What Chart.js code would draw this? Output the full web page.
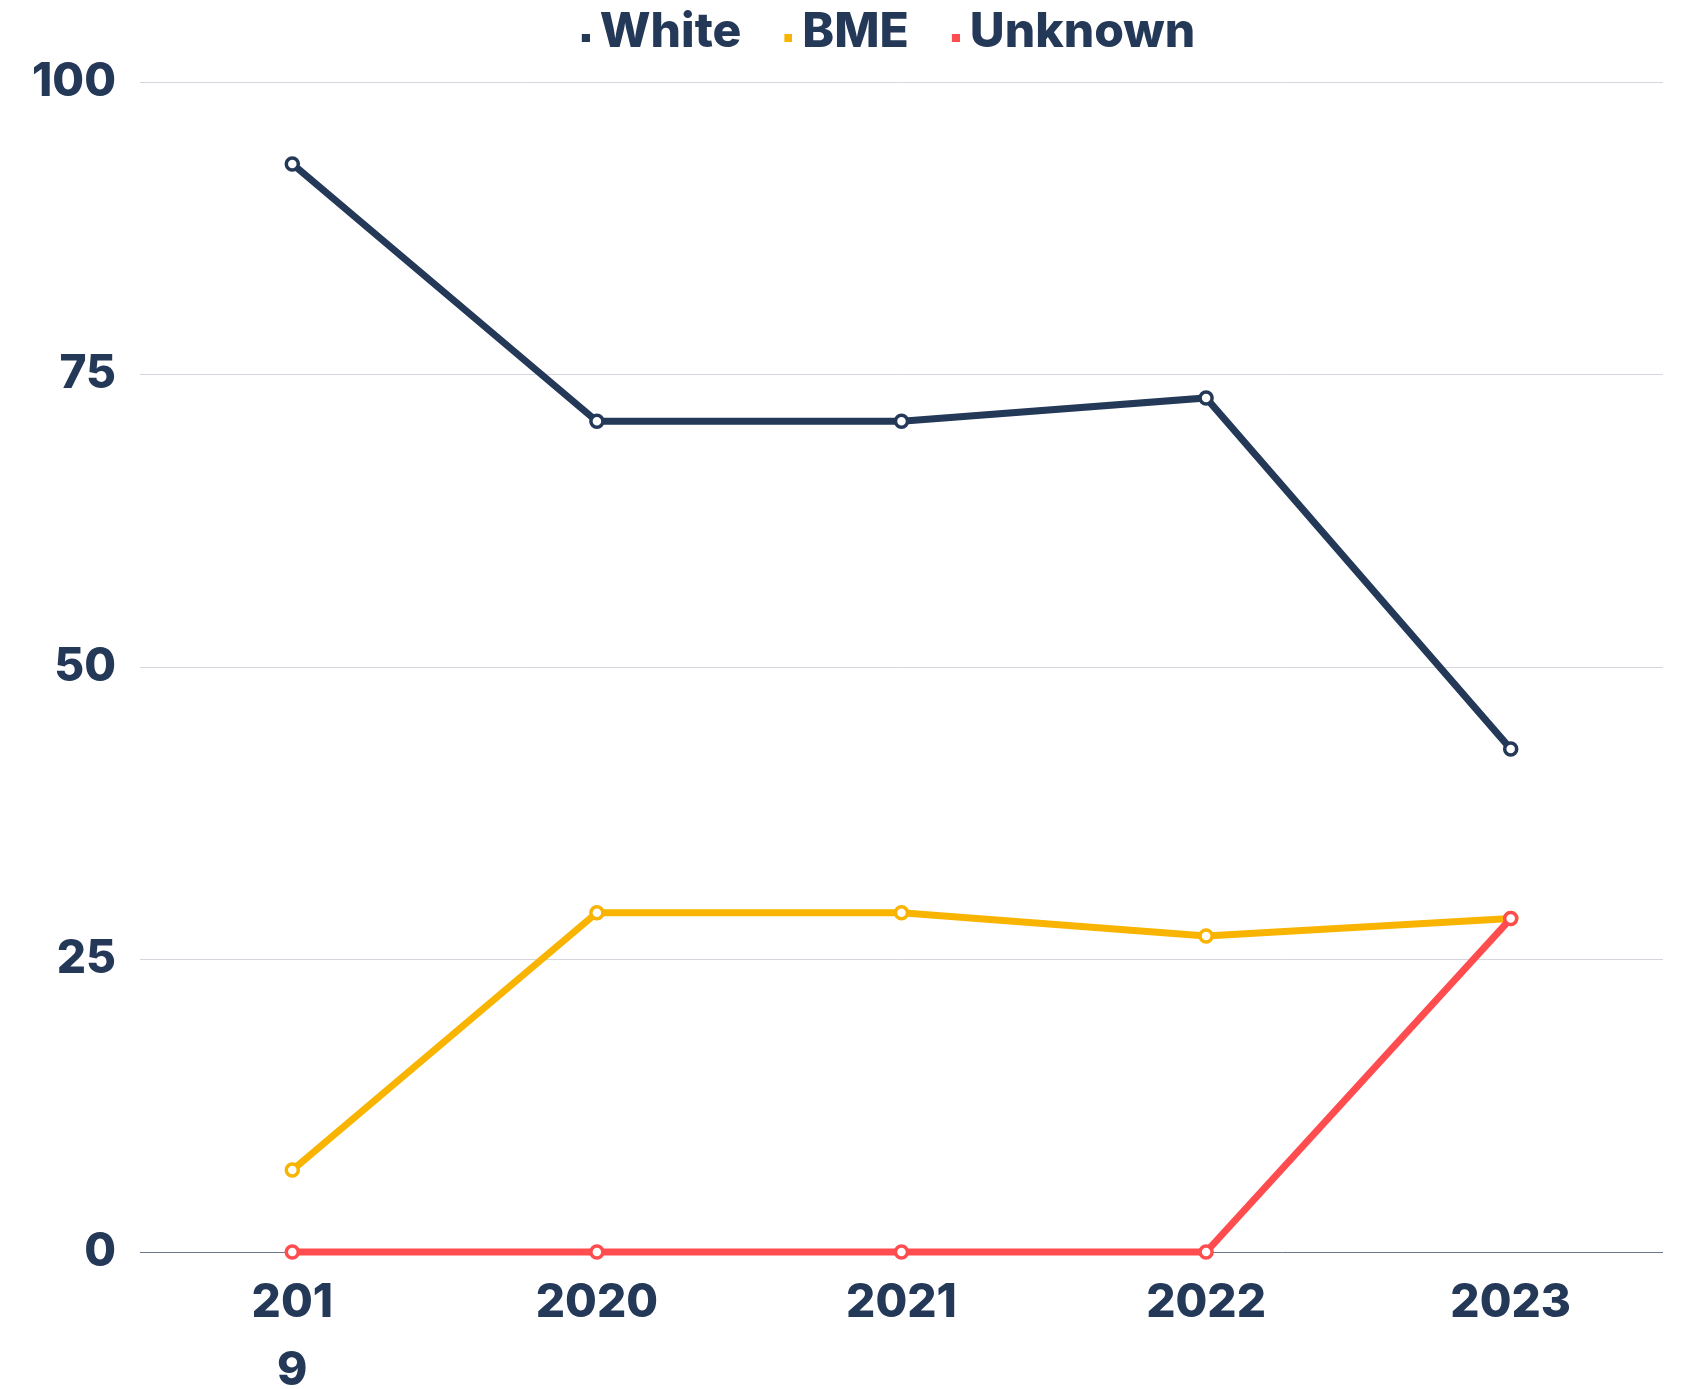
<!DOCTYPE html>
<html>
<head>
  <meta charset="UTF-8">
  <title>Ethnicity by year</title>
  <script src="https://cdn.jsdelivr.net/npm/chart.js"></script>
  <style>
    body {
      margin: 0;
      background: #fff;
    }
    #wrap {
      width: 1682px;
      height: 1389px;
    }
  </style>
</head>
<body>
  <div id="wrap">
    <canvas id="ethChart" width="1682" height="1389"></canvas>
  </div>

  <script>
    // values (percent)
    const categories = ['2019', '2020', '2021', '2022', '2023'];
    const xTickLabels = [['201', '9'], '2020', '2021', '2022', '2023'];
    const yTicks = [0, 25, 50, 75, 100];
    const white = [93, 71, 71, 73, 43];
    const bme = [7, 29, 29, 27, 28.5];
    const unknown = [0, 0, 0, 0, 28.5];

    const navy = '#243858';
    const font = "Inter, 'Noto Sans', sans-serif";

    function series(label, values, colour, order) {
      return {
        label: label,
        data: values,
        borderColor: colour,
        backgroundColor: colour,
        borderWidth: 7,
        pointRadius: 6,
        pointHoverRadius: 6,
        pointBorderWidth: 3.5,
        pointBackgroundColor: '#fff',
        pointBorderColor: colour,
        tension: 0,
        clip: false,
        order: order
      };
    }

    // little square marker sitting close to the label text, a bit low
    function legendSquare(colour) {
      const c = document.createElement('canvas');
      c.width = 36;
      c.height = 18;
      const g = c.getContext('2d');
      g.fillStyle = colour;
      g.fillRect(28, 10, 8, 8);
      return c;
    }

    // room under the legend, and the legend sits a little right of centre
    const legendTweak = {
      id: 'legendTweak',
      beforeLayout(chart) {
        const lg = chart.legend;
        if (lg && !lg._patched) {
          const fit = lg.fit;
          lg.fit = function () {
            fit.call(this);
            this.height += 15;
          };
          lg._patched = true;
        }
      },
      afterLayout(chart) {
        chart.legend.left += 100;
      }
    };

    new Chart(document.getElementById('ethChart'), {
      type: 'line',
      data: {
        labels: categories,
        datasets: [
          series('White', white, '#243858', 2),
          series('BME', bme, '#f8b400', 1),
          series('Unknown', unknown, '#ff4d4f', 0)
        ]
      },
      plugins: [legendTweak],
      options: {
        responsive: false,
        animation: false,
        layout: {
          padding: { top: -20, right: 19, left: 0, bottom: 0 }
        },
        plugins: {
          legend: {
            display: true,
            position: 'top',
            labels: {
              color: navy,
              usePointStyle: true,
              pointStyleWidth: 8,
              boxWidth: 8,
              boxHeight: 8,
              padding: 29,
              font: { family: font, size: 48, weight: 800 },
              sort: (a, b) => a.datasetIndex - b.datasetIndex,
              generateLabels: chart => {
                const items = Chart.defaults.plugins.legend.labels.generateLabels(chart);
                items.forEach(it => {
                  it.lineWidth = 0;
                  it.pointStyle = legendSquare(chart.data.datasets[it.datasetIndex].borderColor);
                });
                return items;
              }
            }
          },
          tooltip: { enabled: false }
        },
        scales: {
          x: {
            offset: true,
            grid: { display: false, drawTicks: false },
            border: { display: false },
            afterFit: scale => { scale.height = 137; },
            ticks: {
              color: navy,
              padding: 17,
              maxRotation: 0,
              autoSkip: false,
              font: { family: font, size: 46, weight: 800, lineHeight: 1.48 },
              callback: (value, index) => xTickLabels[index]
            }
          },
          y: {
            min: 0,
            max: 100,
            afterBuildTicks: scale => { scale.ticks = yTicks.map(v => ({ value: v })); },
            afterFit: scale => { scale.width = 140; },
            grid: {
              drawTicks: false,
              lineWidth: 1,
              color: ctx => ctx.tick && ctx.tick.value === 0 ? '#6b778c' : '#d6d6de'
            },
            border: { display: false },
            ticks: {
              color: navy,
              padding: 24,
              font: { family: font, size: 46, weight: 800 }
            }
          }
        }
      }
    });
  </script>
</body>
</html>
